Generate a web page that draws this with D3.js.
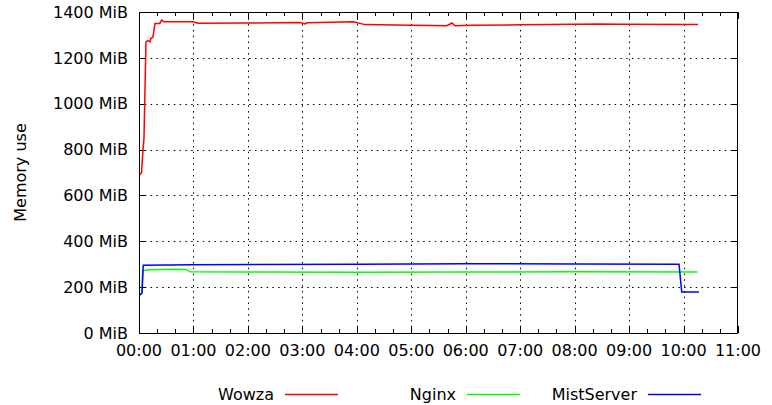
<!DOCTYPE html>
<html>
<head>
<meta charset="utf-8">
<script src="https://cdn.jsdelivr.net/npm/d3@7"></script>
<style>
  body { margin: 0; background: #fff; }
  svg text { font-family: "DejaVu Sans", sans-serif; font-size: 16px; fill: #000; }
</style>
</head>
<body>
<div id="chart"></div>
<script>
// series names / colours in legend order
const seriesNames = ["Wowza", "Nginx", "MistServer"];
const seriesColors = ["#ff0000", "#00ff00", "#0000ff"];

// time in minutes since start, memory in MiB
const wowzaTime = [1, 2.8, 4.4, 5.5, 7.7, 9.9, 12, 13.2, 15.4, 17.6, 23, 25, 27.5, 59.5, 65, 120, 177, 183, 185, 236, 249, 300, 339, 345, 348, 368, 420, 508, 530, 616];
const wowzaMem  = [690, 700, 800, 850, 1270, 1275, 1270, 1285, 1290, 1350, 1350, 1365, 1357, 1357, 1351, 1352, 1354, 1348, 1353, 1357, 1345, 1342, 1340, 1352, 1340, 1342, 1344, 1348, 1347, 1346];

const nginxTime = [1, 3.3, 4, 12, 43, 52, 56, 120, 240, 360, 480, 615.5];
const nginxMem  = [166, 175, 272, 276, 278, 277, 267, 266, 265, 266, 267, 266];

const mistTime = [1, 3.3, 4.7, 60, 240, 360, 480, 595, 598, 617];
const mistMem  = [166, 175, 296, 298, 300, 302, 301, 300, 179, 179];

const xTickLabels = ["00:00", "01:00", "02:00", "03:00", "04:00", "05:00", "06:00", "07:00", "08:00", "09:00", "10:00", "11:00"];
const yTickValues = [0, 200, 400, 600, 800, 1000, 1200, 1400];

const width = 772, height = 405;
const margin = { top: 12, right: 34, bottom: 72, left: 139 };

const svg = d3.select("#chart").append("svg")
  .attr("width", width)
  .attr("height", height);

const xScale = d3.scaleLinear()
  .domain([0, 660])
  .range([margin.left, width - margin.right]);

const yScale = d3.scaleLinear()
  .domain([0, 1400])
  .range([height - margin.bottom, margin.top]);

const x0 = xScale.range()[0], x1 = xScale.range()[1];
const y0 = yScale.range()[0], y1 = yScale.range()[1];

const majorX = d3.range(0, 661, 60);
const minorX = d3.range(0, 661, 20).filter(d => d % 60 !== 0);

// grid
const grid = svg.append("g").attr("stroke", "#000").attr("stroke-width", 1).attr("stroke-dasharray", "1.5,4.3");
grid.selectAll(".gx").data(majorX.slice(1, -1)).enter().append("line")
  .attr("x1", d => Math.round(xScale(d)) + 0.5).attr("x2", d => Math.round(xScale(d)) + 0.5)
  .attr("y1", y0).attr("y2", y1);
grid.selectAll(".gy").data(yTickValues.slice(1, -1)).enter().append("line")
  .attr("x1", x0).attr("x2", x1)
  .attr("y1", d => Math.round(yScale(d)) + 0.5).attr("y2", d => Math.round(yScale(d)) + 0.5);

// ticks on all four sides (gnuplot mirror style)
const ticks = svg.append("g").attr("stroke", "#000").attr("stroke-width", 1);
majorX.forEach(d => {
  const x = Math.round(xScale(d)) + 0.5;
  ticks.append("line").attr("x1", x).attr("x2", x).attr("y1", y0).attr("y2", y0 - 7);
  ticks.append("line").attr("x1", x).attr("x2", x).attr("y1", y1).attr("y2", y1 + 7);
});
minorX.forEach(d => {
  const x = Math.round(xScale(d)) + 0.5;
  ticks.append("line").attr("x1", x).attr("x2", x).attr("y1", y0).attr("y2", y0 - 4);
  ticks.append("line").attr("x1", x).attr("x2", x).attr("y1", y1).attr("y2", y1 + 4);
});
yTickValues.forEach(d => {
  const y = Math.round(yScale(d)) + 0.5;
  ticks.append("line").attr("x1", x0).attr("x2", x0 + 7).attr("y1", y).attr("y2", y);
  ticks.append("line").attr("x1", x1).attr("x2", x1 - 7).attr("y1", y).attr("y2", y);
});

// tick labels
svg.append("g").selectAll("text").data(majorX).enter().append("text")
  .attr("x", d => xScale(d))
  .attr("y", y0 + 23)
  .attr("text-anchor", "middle")
  .text((d, i) => xTickLabels[i]);

svg.append("g").selectAll("text").data(yTickValues).enter().append("text")
  .attr("x", x0 - 11)
  .attr("y", d => yScale(d))
  .attr("dy", "0.36em")
  .attr("text-anchor", "end")
  .text(d => d + " MiB");

svg.append("text")
  .attr("transform", `translate(26, ${(y0 + y1) / 2}) rotate(-90)`)
  .attr("text-anchor", "middle")
  .text("Memory use");

// data lines
const series = [
  { time: wowzaTime, mem: wowzaMem },
  { time: nginxTime, mem: nginxMem },
  { time: mistTime, mem: mistMem }
];

const line = d3.line()
  .x(d => xScale(d[0]))
  .y(d => yScale(d[1]));

series.forEach((s, i) => {
  const pts = s.time.map((t, j) => [t, s.mem[j]]);
  svg.append("path")
    .datum(pts)
    .attr("fill", "none")
    .attr("stroke", seriesColors[i])
    .attr("stroke-width", 1.5)
    .attr("d", line);
});

// border frame
svg.append("rect")
  .attr("x", x0 + 0.5).attr("y", y1 + 0.5)
  .attr("width", x1 - x0 - 1).attr("height", y0 - y1)
  .attr("fill", "none").attr("stroke", "#000").attr("stroke-width", 1);

// legend
const legendTextEnd = [274, 456, 637];
const legend = svg.append("g");
seriesNames.forEach((name, i) => {
  legend.append("text")
    .attr("x", legendTextEnd[i])
    .attr("y", 394)
    .attr("dy", "0.36em")
    .attr("text-anchor", "end")
    .text(name);
  legend.append("line")
    .attr("x1", legendTextEnd[i] + 11).attr("x2", legendTextEnd[i] + 64)
    .attr("y1", 394.5).attr("y2", 394.5)
    .attr("stroke", seriesColors[i]).attr("stroke-width", 1.5);
});
</script>
</body>
</html>
